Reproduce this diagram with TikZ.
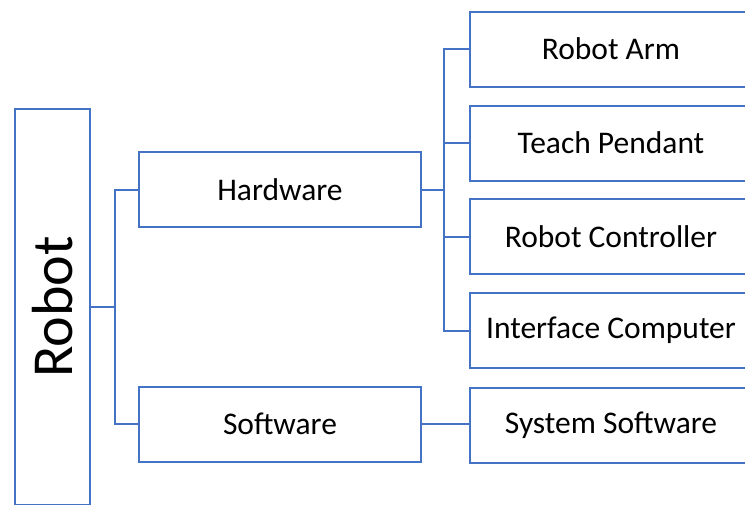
\documentclass[tikz,border=0pt]{standalone}
\usepackage{fontspec}
\setmainfont{Carlito}
\definecolor{lineblue}{HTML}{4472C4}
\begin{document}
\begin{tikzpicture}[x=1pt,y=-1pt,
  box/.style={draw=lineblue, line width=2pt, fill=white, inner sep=0pt,
    minimum width=282pt, minimum height=75pt,
    font=\fontsize{31.5}{36}\selectfont, text=black},
  conn/.style={draw=lineblue, line width=2pt}]
\clip (0,0) rectangle (745,504);
\fill[white] (0,0) rectangle (745,504);
% nodes
\node[box, rotate=90, minimum width=396pt, minimum height=75pt,
  font=\fontsize{58}{64}\selectfont] (robot) at (52.5,307) {Robot};
\node[box] (hw) at (280,189.5) {Hardware};
\node[box] (sw) at (280,424) {Software};
\node[box] (arm) at (611,49) {Robot Arm};
\node[box] (tp) at (611,143) {Teach Pendant};
\node[box] (rc) at (611,236.5) {Robot Controller};
\node[box] (ic) at (611,330.5) {Interface Computer};
\node[box] (ss) at (611,425) {System Software};
% junctions
\coordinate (j1) at (115,307);
\coordinate (j2) at (444,189.5);
% connectors
\draw[conn] (robot.south) -- (j1);
\draw[conn] (hw.west) -| (j1) |- (sw.west);
\draw[conn] (hw.east) -- (j2);
\draw[conn] (arm.west) -| (j2) |- (ic.west);
\draw[conn] (tp.west) -- (tp.west -| j2);
\draw[conn] (rc.west) -- (rc.west -| j2);
\draw[conn] (sw.east) -- (sw.east -| ss.west);
\end{tikzpicture}
\end{document}
